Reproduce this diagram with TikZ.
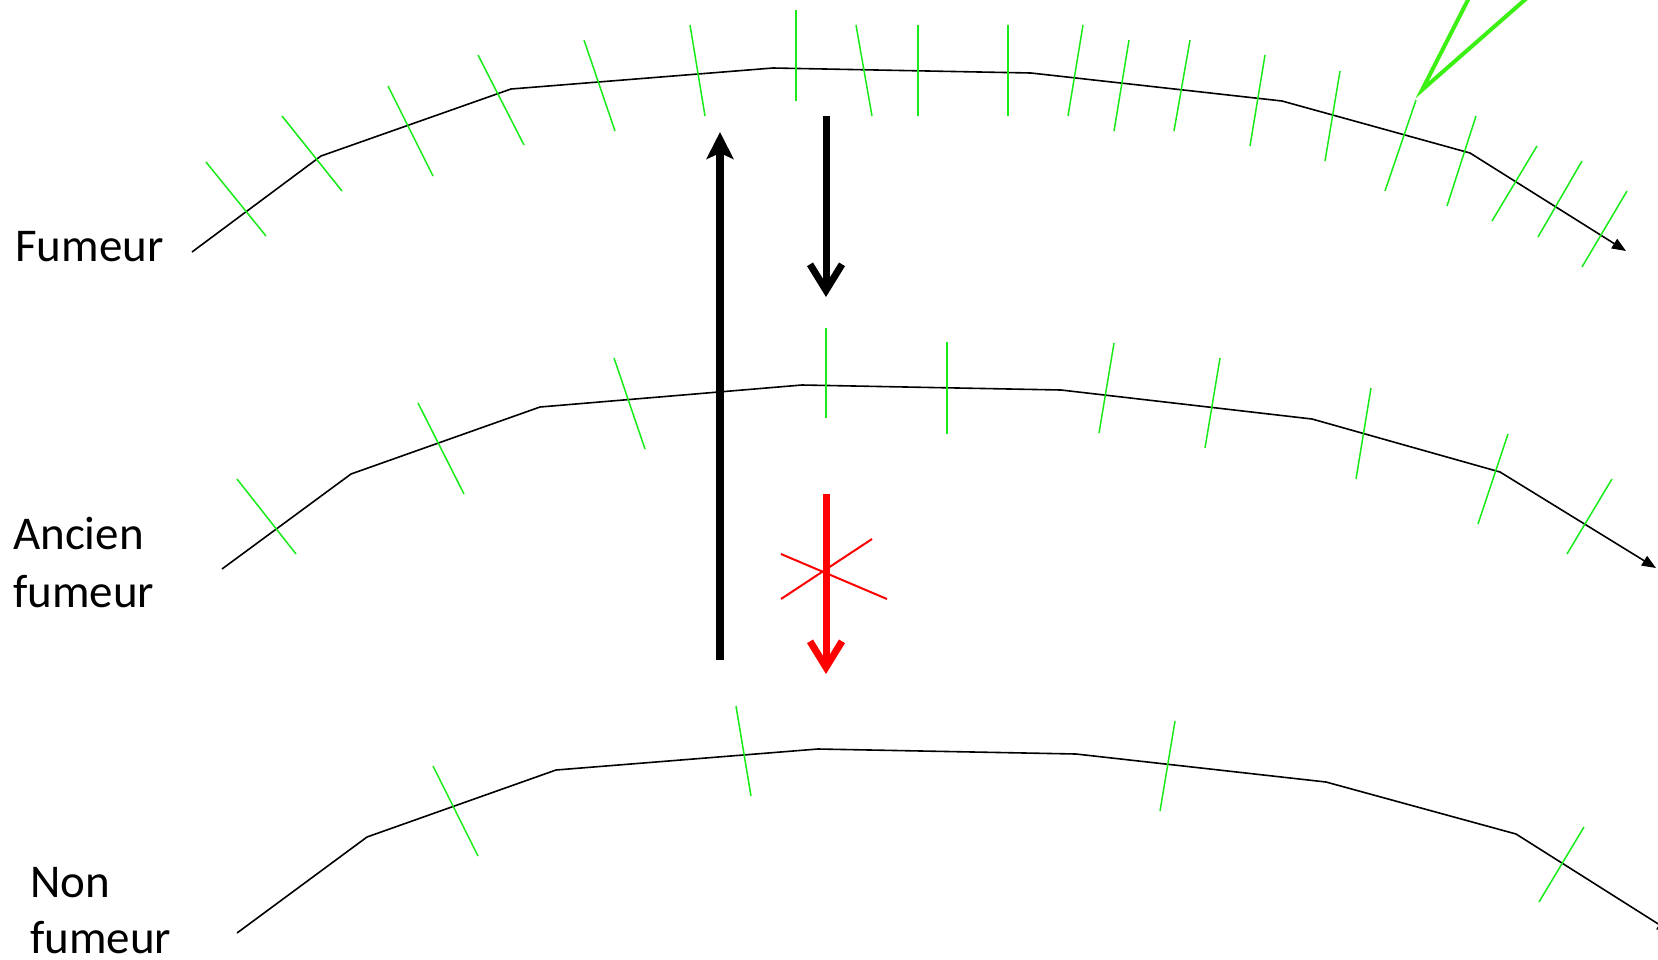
\documentclass[tikz,border=0pt]{standalone}
\usepackage{fontspec}
\setmainfont{Carlito}
\usetikzlibrary{arrows.meta}
\definecolor{tickgreen}{RGB}{25,235,25}
\definecolor{vgreen}{RGB}{60,240,20}
\definecolor{arrowred}{RGB}{255,0,0}
\begin{document}
\begin{tikzpicture}[x=1pt,y=-1pt,
  curve/.style={line width=1.6pt, black, line join=miter, -{Triangle[length=14pt,width=11pt]}},
  tick/.style={line width=1.5pt, tickgreen},
  lbl/.style={font=\fontsize{47}{59}\selectfont, inner sep=0pt, anchor=base west},
  bigup/.style={line width=8pt, black, -{Stealth[length=27pt,width=27pt,inset=6pt]}},
  bigdown/.style={line width=7pt, -{Straight Barb[length=26pt,width=32pt]}},
  crossline/.style={line width=2pt, arrowred}]
\useasboundingbox (0,0) rectangle (1658,959);
\fill[white] (0,0) rectangle (1658,959);
\clip (0,0) rectangle (1658,959);

% labels
\node[lbl] (fum) at (15,261) {Fumeur};
\node[lbl] (anc1) at (13,549) {Ancien};
\node[lbl] (anc2) at (13,607) {fumeur};
\node[lbl] (non1) at (30,897) {Non};
\node[lbl] (non2) at (30,953) {fumeur};

% top curve
\draw[curve] (192,252) -- (321,156) -- (511,89) -- (773,68) -- (1031,73) -- (1282,101) -- (1470,153) -- (1626,251);
% middle curve
\draw[curve] (222,569) -- (351,474) -- (540,407) -- (802,385) -- (1061,390) -- (1312,419) -- (1500,472) -- (1656,568);
% bottom curve
\draw[curve] (237,933) -- (367,837) -- (556,770) -- (818,749) -- (1076,754) -- (1326,782) -- (1516,834) -- (1671,932);

% ticks top
\foreach \a/\b/\c/\d in {206/162/266/236, 282/116/342/191, 388/86/433/176, 478/55/524/145,
  584/40/615/131, 690/25/705/116, 796/10/796/101, 856/25/872/116, 1008/25/1008/116,
  1083/25/1068/116, 1129/40/1114/131, 1190/40/1174/131, 1265/55/1250/146, 1340/71/1325/161,
  1416/100/1385/191, 1476/116/1447/206, 1537/146/1492/221, 1582/161/1538/237, 1627/191/1582/267}
  \draw[tick] (\a,\b) -- (\c,\d);
\draw[tick, line width=2.4pt] (918,25) -- (918,116);
% ticks middle
\foreach \a/\b/\c/\d in {237/479/296/554, 418/403/464/494, 614/358/645/449, 826/328/826/418,
  947/342/947/434, 1114/343/1099/433, 1220/358/1205/448, 1371/388/1356/479,
  1508/434/1478/524, 1612/479/1567/554}
  \draw[tick] (\a,\b) -- (\c,\d);
% ticks bottom
\foreach \a/\b/\c/\d in {433/766/478/856, 736/706/751/796, 1175/721/1160/811, 1584/827/1539/902}
  \draw[tick] (\a,\b) -- (\c,\d);

% green V at top
\draw[vgreen, line width=4pt, line join=miter, miter limit=20] (1473,-10) -- (1422,90) -- (1536,-10);

% vertical arrows
\coordinate (upS) at (720,660);
\coordinate (upE) at (720,132);
\draw[bigup] (upS) -- (upE);
\coordinate (dnS) at (826,116);
\coordinate (dnE) at (826,297);
\draw[bigdown, black] (dnS) -- (dnE);
\coordinate (rdS) at (826,494);
\coordinate (rdE) at (826,674);
\draw[bigdown, arrowred] (rdS) -- (rdE);

% red cross
\draw[crossline] (781,554) -- (887,599);
\draw[crossline] (781,599) -- (872,539);
\end{tikzpicture}
\end{document}
